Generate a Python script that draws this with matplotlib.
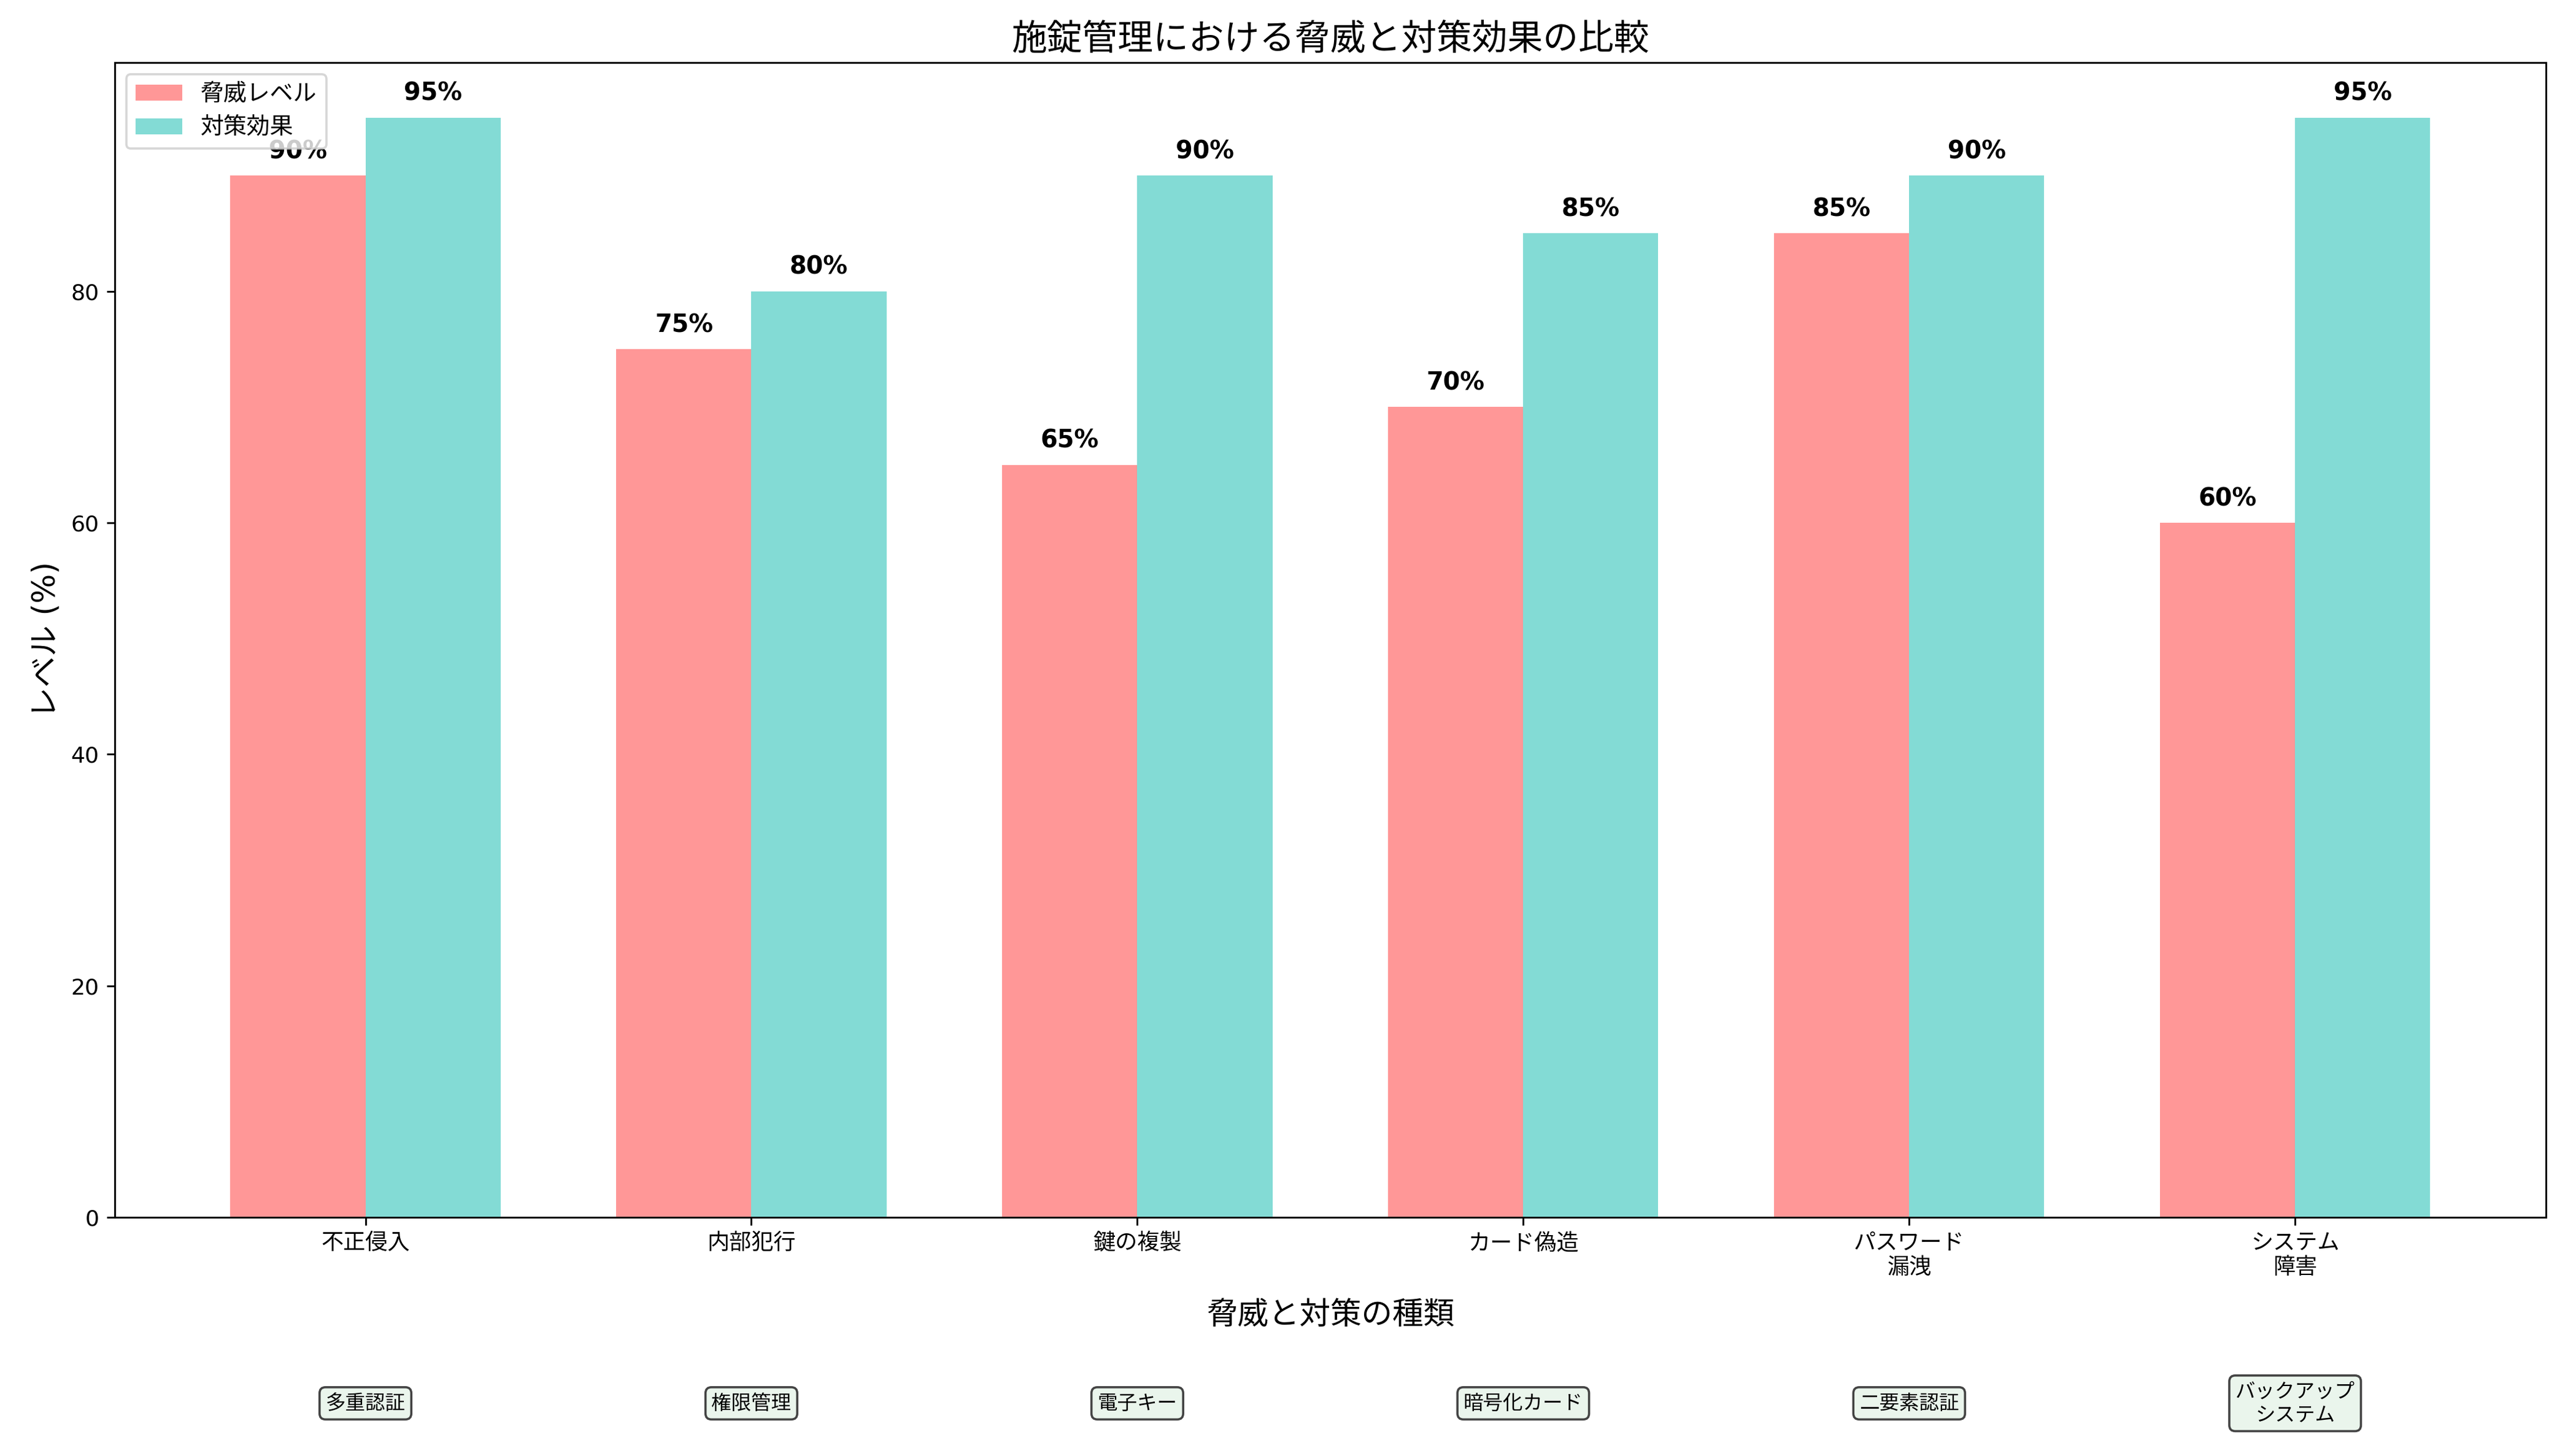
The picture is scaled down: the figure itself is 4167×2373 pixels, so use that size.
import matplotlib
matplotlib.use("Agg")
import matplotlib.pyplot as plt
import numpy as np

plt.rcParams['font.family'] = ['DejaVu Sans', 'Noto Sans CJK JP']

categories = ['不正侵入', '内部犯行', '鍵の複製', 'カード偽造', 'パスワード\n漏洩', 'システム\n障害']
threat = [90, 75, 65, 70, 85, 60]
effect = [95, 80, 90, 85, 90, 95]
measures = ['多重認証', '権限管理', '電子キー', '暗号化カード', '二要素認証', 'バックアップ\nシステム']

fig = plt.figure(figsize=(16.03, 9.127), dpi=260)
ax = fig.add_axes([0.0448, 0.164, 0.9507, 0.793])
x = np.arange(len(categories))
w = 0.35
b1 = ax.bar(x - w/2, threat, w, color='#FF6B6B', alpha=0.7, label='脅威レベル')
b2 = ax.bar(x + w/2, effect, w, color='#4ECDC4', alpha=0.7, label='対策効果')
for bars in (b1, b2):
    for b in bars:
        ax.text(b.get_x() + b.get_width()/2, b.get_height() + 1, f'{int(b.get_height())}%',
                ha='center', va='bottom', fontweight='bold', fontsize=11)
ax.set_xticks(x)
ax.set_xticklabels(categories, fontsize=10)
ax.tick_params(axis='y', labelsize=10)
ax.set_xlim(-0.65, 5.65)
ax.set_ylim(0, 99.75)
ax.set_ylabel('レベル (%)', fontsize=14)
ax.set_xlabel('脅威と対策の種類', fontsize=14, labelpad=10)
ax.set_title('施錠管理における脅威と対策効果の比較', fontsize=16)
leg = ax.legend(loc='upper left', fontsize=10.5)
leg.set_zorder(10)
for i, m in enumerate(measures):
    ax.annotate(m, xy=(x[i], 0), xycoords=('data', 'axes fraction'), xytext=(0, -84),
                textcoords='offset points', ha='center', va='center', fontsize=9,
                bbox=dict(boxstyle='round,pad=0.3', facecolor='#EAF5EC', edgecolor='#444444'))
fig.savefig('out.png', dpi=260)
